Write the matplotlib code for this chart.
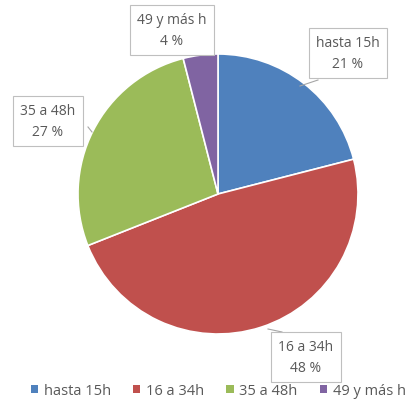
import matplotlib
matplotlib.use("Agg")
import matplotlib.pyplot as plt
from matplotlib.patches import Patch

# --- Datos ---
categorias = ["hasta 15h", "16 a 34h", "35 a 48h", "49 y más h"]
valores = [21, 48, 27, 4]
etiquetas_pct = ["21 %", "48 %", "27 %", "4 %"]
colores = ["#4F81BD", "#C0504D", "#9BBB59", "#8064A2"]

plt.rcParams['font.family'] = ['Open Sans', 'DejaVu Sans']
GRIS = "#595959"

W, H = 412, 406
fig = plt.figure(figsize=(W / 100, H / 100), dpi=100)
ax = fig.add_axes([0, 0, 1, 1])

cx, cy, r = 218, H - 195, 140
ax.pie(valores, colors=colores, startangle=90, counterclock=False,
       center=(cx, cy), radius=r, frame=True,
       wedgeprops=dict(edgecolor="white", linewidth=1.2))
ax.set_xlim(0, W)
ax.set_ylim(0, H)
ax.set_aspect("equal")
ax.axis("off")

# cajas de etiquetas (centro en pixeles de imagen) y punta de la llamada
cajas = [
    ((348, 54), (300, 87), (318, 81)),
    ((306, 358), (268, 330), (282, 333)),
    ((48, 122), (92, 133), (88, 128)),
    ((172, 31), None, None),
]
for i, (centro, punta, base) in enumerate(cajas):
    x, y = centro
    if punta is not None:
        ax.plot([base[0], punta[0]], [H - base[1], H - punta[1]],
                color="#A6A6A6", lw=0.8, zorder=4)
    ax.text(x, H - y, f"{categorias[i]}\n{etiquetas_pct[i]}",
            ha="center", va="center", fontsize=10, color=GRIS,
            linespacing=1.5, zorder=5,
            bbox=dict(boxstyle="square,pad=0.5", fc="white",
                      ec="#BFBFBF", lw=0.8))

handles = [Patch(facecolor=c, edgecolor="none") for c in colores]
fig.legend(handles, categorias, loc="center", bbox_to_anchor=(0.53, 1 - 392 / H),
           ncol=4, frameon=False, fontsize=10.5, labelcolor=GRIS,
           handlelength=0.5, handleheight=0.5, handletextpad=0.4,
           columnspacing=1.5)

fig.savefig("out.png", dpi=100, facecolor="white")
